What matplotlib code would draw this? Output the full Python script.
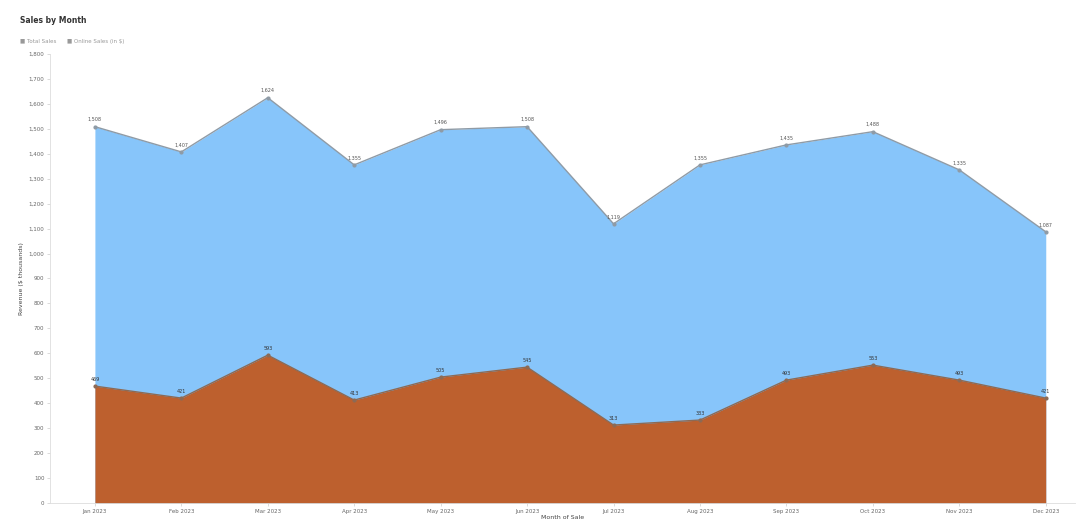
import matplotlib
matplotlib.use("Agg")
import matplotlib.pyplot as plt

# monthly totals
months = ['Jan 2023', 'Feb 2023', 'Mar 2023', 'Apr 2023', 'May 2023', 'Jun 2023',
          'Jul 2023', 'Aug 2023', 'Sep 2023', 'Oct 2023', 'Nov 2023', 'Dec 2023']
total_sales = [1508, 1407, 1624, 1355, 1496, 1508, 1119, 1355, 1435, 1488, 1335, 1087]
online_sales = [469, 421, 593, 413, 505, 545, 313, 333, 493, 553, 493, 421]
yticks = list(range(0, 1900, 100))

blue = '#87c5fa'
orange = '#bd602e'

fig = plt.figure(figsize=(10.86, 5.22), dpi=100)
ax = fig.add_axes([0.046, 0.036, 0.944, 0.861])

x = list(range(len(months)))
ax.fill_between(x, 0, total_sales, color=blue, linewidth=0, zorder=1)
ax.plot(x, total_sales, color='#8f9ba6', linewidth=1.0, marker='o', markersize=2, zorder=3)
ax.fill_between(x, 0, online_sales, color=orange, linewidth=0, zorder=2)
ax.plot(x, online_sales, color='#8c6a55', linewidth=1.0, marker='o', markersize=2, zorder=3)

for i in x:
    ax.text(i, total_sales[i] + 18, '{:,}'.format(total_sales[i]), ha='center', va='bottom',
            fontsize=3.5, color='#555555')
    ax.text(i, online_sales[i] + 18, '{:,}'.format(online_sales[i]), ha='center', va='bottom',
            fontsize=3.5, color='#333333')

ax.set_xlim(-0.52, 11.34)
ax.set_ylim(0, 1800)
ax.set_xticks(x)
ax.set_xticklabels(months, fontsize=4, color='#666666')
ax.set_yticks(yticks)
ax.set_yticklabels(['{:,}'.format(v) for v in yticks], fontsize=4, color='#666666')
ax.tick_params(length=2, width=0.5, color='#cccccc', pad=2)
for s in ['top', 'right']:
    ax.spines[s].set_visible(False)
for s in ['left', 'bottom']:
    ax.spines[s].set_color('#dddddd')
    ax.spines[s].set_linewidth(0.6)

ax.set_ylabel('Revenue ($ thousands)', fontsize=4.5, color='#444444', labelpad=3)
ax.set_xlabel('Month of Sale', fontsize=4.5, color='#444444', labelpad=1)

fig.text(0.018, 0.955, 'Sales by Month', fontsize=5.5, color='#333333', fontweight='semibold')
# legend row
fig.text(0.018, 0.918, '\u25a0 Total Sales', fontsize=4, color='#999999')
fig.text(0.062, 0.918, '\u25a0 Online Sales (in $)', fontsize=4, color='#999999')

fig.savefig('out.png', dpi=100)
